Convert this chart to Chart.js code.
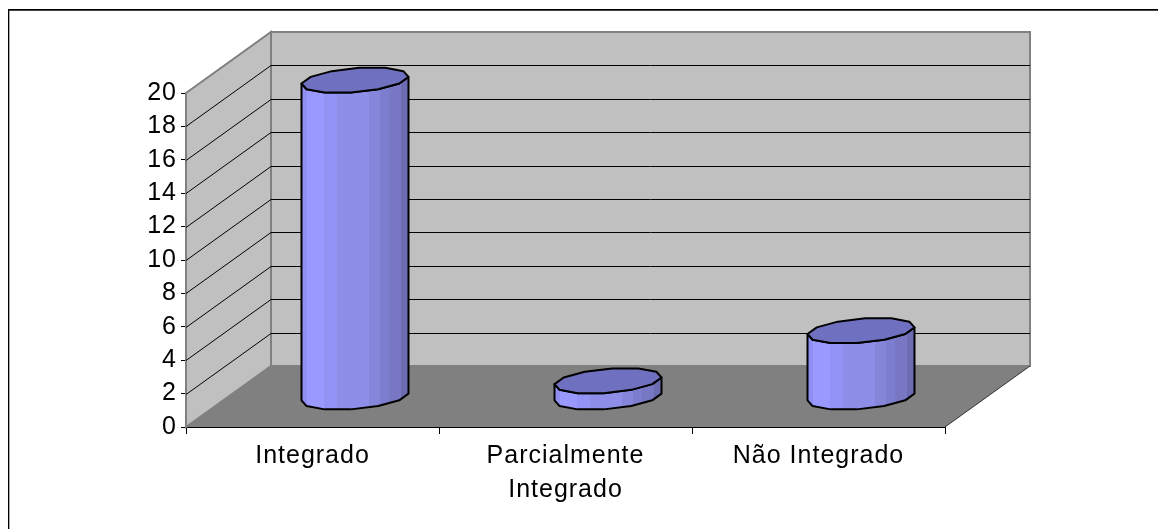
<!DOCTYPE html>
<html>
<head>
<meta charset="utf-8">
<title>Integrado</title>
<script src="https://cdn.jsdelivr.net/npm/chart.js@4"></script>
<style>
  html, body { margin: 0; background: #fff; }
  #wrap { position: relative; width: 1158px; height: 529px; }
  canvas { display: block; }
</style>
</head>
<body>
<div id="wrap"><canvas id="myChart" width="1158" height="529"></canvas></div>
<script>
const categorias = [['Integrado'], ['Parcialmente', 'Integrado'], ['Não Integrado']];
const valores = [19, 1, 4];

// depth of the fake 3D box, in pixels
const fundoX = 85;
const fundoY = 61;

// walls and floor go behind the bars, hung on the real scales
const paredes = {
    id: 'paredes',
    beforeDatasetsDraw(chart) {
        const ctx = chart.ctx;
        const { left, right, top, bottom } = chart.chartArea;
        const y = chart.scales.y;
        ctx.save();

        ctx.fillStyle = '#c0c0c0';
        ctx.strokeStyle = '#808080';
        ctx.lineWidth = 2;
        ctx.beginPath();
        ctx.rect(left + fundoX, top - fundoY, right - left, bottom - top);
        ctx.fill();
        ctx.stroke();

        ctx.beginPath();
        ctx.moveTo(left, top);
        ctx.lineTo(left + fundoX, top - fundoY);
        ctx.lineTo(left + fundoX, bottom - fundoY);
        ctx.lineTo(left, bottom);
        ctx.closePath();
        ctx.fill();
        ctx.stroke();

        ctx.fillStyle = '#808080';
        ctx.beginPath();
        ctx.moveTo(left, bottom);
        ctx.lineTo(left + fundoX, bottom - fundoY);
        ctx.lineTo(right + fundoX, bottom - fundoY);
        ctx.lineTo(right, bottom);
        ctx.closePath();
        ctx.fill();

        // grid lines, skip the floor and the top edge
        ctx.strokeStyle = '#000';
        ctx.lineWidth = 1;
        y.ticks.forEach(t => {
            if (t.value === 0 || t.value === y.max) return;
            const py = Math.round(y.getPixelForValue(t.value)) + 0.5;
            ctx.beginPath();
            ctx.moveTo(left, py);
            ctx.lineTo(left + fundoX, py - fundoY);
            ctx.lineTo(right + fundoX, py - fundoY);
            ctx.stroke();
        });

        // front right edge of the floor
        ctx.strokeStyle = '#333';
        ctx.beginPath();
        ctx.moveTo(right, bottom);
        ctx.lineTo(right + fundoX, bottom - fundoY);
        ctx.stroke();
        ctx.restore();
    }
};

// the 12 sided base of a cylinder, projected the same way as the box
function contorno(cx, cy, a) {
    const b = 0.21;
    const pts = [];
    for (let k = 0; k < 12; k++) {
        const ang = (15 + 30 * k) * Math.PI / 180;
        pts.push([
            cx + a * Math.cos(ang) + b * fundoX * Math.sin(ang),
            cy - b * fundoY * Math.sin(ang)
        ]);
    }
    return pts;
}

function caminho(ctx, pts) {
    ctx.beginPath();
    pts.forEach((p, i) => i ? ctx.lineTo(p[0], p[1]) : ctx.moveTo(p[0], p[1]));
    ctx.closePath();
}

// shading bands of the cylinder side, left to right
const faixas = [
    [0.05, '#8f8ff2'], [0.21, '#9999ff'], [0.33, '#9393f6'], [0.63, '#8e8ee8'],
    [0.73, '#8585da'], [0.82, '#7d7dd0'], [0.93, '#7777c4'], [1, '#6c6cb2']
];

const cilindros = {
    id: 'cilindros',
    afterDatasetsDraw(chart) {
        const ctx = chart.ctx;
        const meta = chart.getDatasetMeta(0);
        meta.data.forEach(bar => {
            const cx = bar.x + fundoX / 2;
            const a = bar.width / 2;
            const topo = contorno(cx, bar.y - fundoY / 2 + 1, a);
            const base = contorno(cx, bar.base - fundoY / 2 + 1, a);

            // body: lower half of the base, then back up along the top rim
            const corpo = [];
            for (let k = 6; k < 12; k++) corpo.push(base[k]);
            corpo.push(base[0]);
            corpo.push(topo[0]);
            for (let k = 11; k >= 6; k--) corpo.push(topo[k]);

            const esq = cx - a - 3;
            const dir = cx + a + 3;
            const grad = ctx.createLinearGradient(esq, 0, dir, 0);
            let antes = 0;
            faixas.forEach(f => {
                grad.addColorStop(antes, f[1]);
                grad.addColorStop(f[0], f[1]);
                antes = f[0];
            });

            ctx.save();
            ctx.lineJoin = 'round';
            ctx.strokeStyle = '#000';
            ctx.lineWidth = 2;
            caminho(ctx, corpo);
            ctx.fillStyle = grad;
            ctx.fill();
            ctx.stroke();
            caminho(ctx, topo);
            ctx.fillStyle = '#7070c0';
            ctx.fill();
            ctx.stroke();
            ctx.restore();
        });
    }
};

// the outer frame only shows on the top and left sides
const moldura = {
    id: 'moldura',
    beforeDraw(chart) {
        const ctx = chart.ctx;
        ctx.letterSpacing = '1px';
        ctx.save();
        ctx.fillStyle = '#000';
        ctx.fillRect(8, 9, 1150, 1);
        ctx.fillRect(8, 9, 1, 520);
        ctx.fillStyle = '#444';
        ctx.fillRect(9, 10, 1149, 1);
        ctx.fillStyle = '#aaa';
        ctx.fillRect(9, 11, 1, 518);
        ctx.restore();
    }
};

new Chart(document.getElementById('myChart').getContext('2d'), {
    type: 'bar',
    data: {
        labels: categorias,
        datasets: [{
            data: valores,
            backgroundColor: 'rgba(0,0,0,0)',
            categoryPercentage: 1,
            barPercentage: 0.4
        }]
    },
    plugins: [moldura, paredes, cilindros],
    options: {
        responsive: false,
        animation: false,
        layout: { padding: { left: 0, right: 213, top: 93, bottom: 0 } },
        plugins: { legend: { display: false }, tooltip: { enabled: false } },
        scales: {
            x: {
                afterFit(s) { s.height = 102; },
                grid: { drawOnChartArea: false, color: '#000', tickLength: 7, tickColor: '#000', offset: true },
                border: { color: '#000', width: 2 },
                ticks: { color: '#000', font: { family: '"Liberation Sans"', size: 25, lineHeight: 1.36 }, maxRotation: 0, padding: 5 }
            },
            y: {
                min: 0,
                max: 20,
                afterFit(s) { s.width = 186; },
                grid: { drawOnChartArea: false, color: '#000', tickLength: 5, tickColor: '#000' },
                border: { color: '#222', width: 1 },
                ticks: { stepSize: 2, color: '#000', font: { family: '"Liberation Sans"', size: 25 }, padding: 4 }
            }
        }
    }
});
</script>
</body>
</html>
